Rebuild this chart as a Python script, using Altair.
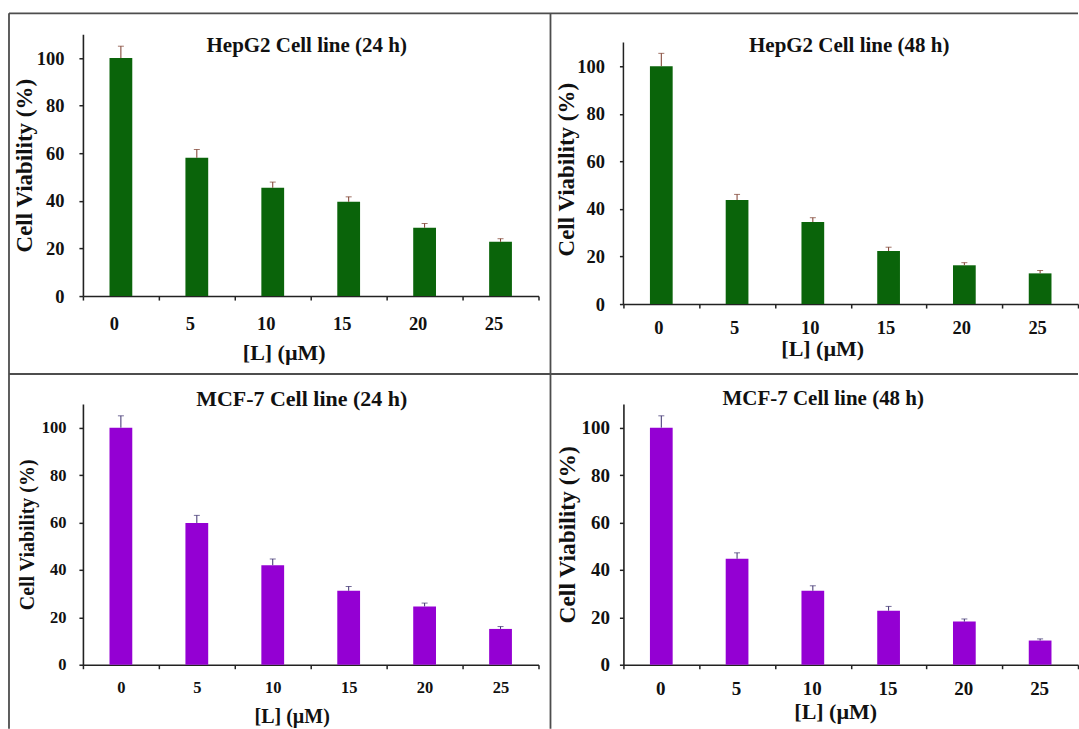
import altair as alt
import pandas as pd

# ---------------- data ----------------
doses = ["0", "5", "10", "15", "20", "25"]

hepg2_24 = [100, 58.1, 45.5, 39.6, 28.7, 22.8]
hepg2_24_err = [5.0, 3.5, 2.4, 2.1, 1.8, 1.3]

hepg2_48 = [100, 43.7, 34.5, 22.3, 16.3, 12.9]
hepg2_48_err = [5.4, 2.4, 1.8, 1.6, 1.1, 1.2]

mcf7_24 = [100, 59.8, 42.0, 31.2, 24.6, 15.1]
mcf7_24_err = [5.0, 3.2, 2.6, 1.8, 1.4, 1.0]

mcf7_48 = [100, 44.7, 31.2, 22.8, 18.2, 10.2]
mcf7_48_err = [5.0, 2.5, 2.1, 1.8, 1.1, 0.7]

panel_titles = [
    "HepG2 Cell line (24 h)",
    "HepG2 Cell line (48 h)",
    "MCF-7 Cell line (24 h)",
    "MCF-7 Cell line (48 h)",
]
y_title = "Cell Viability (%)"
x_title = "[L] (µM)"
y_ticks = [0, 20, 40, 60, 80, 100]
y_axis_top = 110

GREEN = "#0a640a"
PURPLE = "#9400d3"
GREEN_ERR = "#7b3a2a"
PURPLE_ERR = "#3b2f6e"
FONT = "Liberation Serif"
FRAME = "#4d4d4d"
AXIS = "#222222"


def panel(values, errs, title, color, err_color, s, frame=False):
    df = pd.DataFrame({"dose": doses, "v": values,
                       "top": [v + e for v, e in zip(values, errs)]})
    base = alt.Chart(df)
    xscale = alt.Scale(paddingInner=0, paddingOuter=0)
    xaxis = alt.Axis(title=x_title, labelAngle=0, tickBand="extent",
                     labelFontSize=s["lfs"], titleFontSize=s["xtfs"],
                     labelBaseline="middle", labelPadding=s["xlp"],
                     labelOffset=s["xlo"], titleBaseline="middle",
                     titleX=s["xtx"], titleY=s["xty"])
    yscale = alt.Scale(domain=[0, s["ymax"]], nice=False, zero=True)
    yaxis = alt.Axis(title=y_title, values=y_ticks, labelFontSize=s["lfs"],
                     titleFontSize=s["ytfs"], labelPadding=s["ylp"],
                     titleBaseline="middle", titleAngle=-90,
                     titleX=s["ytx"], domain=s["ymax"] == y_axis_top)
    x = alt.X("dose:N", sort=doses, scale=xscale, axis=xaxis)

    bars = base.mark_bar(color=color, width=alt.RelativeBandSize(0.3)).encode(
        x=x, y=alt.Y("v:Q", scale=yscale, axis=yaxis))
    stems = base.mark_rule(color=err_color, strokeWidth=1).encode(
        x=x, y=alt.Y("v:Q", scale=yscale, axis=yaxis), y2="top:Q")
    caps = base.mark_tick(color=err_color, size=6, thickness=1).encode(
        x=x, y=alt.Y("top:Q", scale=yscale, axis=yaxis))
    ttl = alt.Chart(pd.DataFrame({"t": [title]})).mark_text(
        font=FONT, fontWeight="bold", fontSize=s["tfs"], color="#111111",
        align="center", baseline="middle").encode(
        text="t:N", x=alt.value(s["tx"]), y=alt.value(s["ty"]))
    layers = [bars, stems, caps, ttl]
    one = alt.Chart(pd.DataFrame({"k": [0]}))
    if s["ymax"] != y_axis_top:
        # y axis line drawn only up to 110, as in the reference
        layers.append(one.mark_rule(color=AXIS, strokeWidth=1.5).encode(
            x=alt.value(0), y=alt.datum(0, scale=yscale),
            y2=alt.datum(y_axis_top)))
    if frame:
        # panel frame lines (decoration)
        layers += [
            one.mark_rule(color=FRAME, strokeWidth=1.8).encode(
                x=alt.value(-74), x2=alt.value(996), y=alt.value(-21)),
            one.mark_rule(color=FRAME, strokeWidth=1.8).encode(
                x=alt.value(-74), x2=alt.value(996), y=alt.value(340)),
            one.mark_rule(color=FRAME, strokeWidth=1.8).encode(
                x=alt.value(-74), y=alt.value(-21), y2=alt.value(695)),
            one.mark_rule(color=FRAME, strokeWidth=1.8).encode(
                x=alt.value(468), y=alt.value(-21), y2=alt.value(695)),
        ]
    return alt.layer(*layers).properties(width=s["w"], height=s["h"])


tl = panel(hepg2_24, hepg2_24_err, panel_titles[0], GREEN, GREEN_ERR,
           dict(w=456, h=262, ymax=110, lfs=18.5, xtfs=22, ytfs=23, xlp=23,
                xlo=-7, xtx=201, xty=56, ylp=15, ytx=-58, tfs=21, tx=224,
                ty=12),
           frame=True)
tr = panel(hepg2_48, hepg2_48_err, panel_titles[1], GREEN, GREEN_ERR,
           dict(w=455, h=270, ymax=113.4, lfs=18.5, xtfs=22, ytfs=23, xlp=19,
                xlo=-3, xtx=199, xty=44, ylp=15, ytx=-57, tfs=21, tx=226,
                ty=12))
bl = panel(mcf7_24, mcf7_24_err, panel_titles[2], PURPLE, PURPLE_ERR,
           dict(w=456, h=261, ymax=110, lfs=16.5, xtfs=20, ytfs=20, xlp=19,
                xlo=0, xtx=209, xty=52, ylp=13, ytx=-55, tfs=22, tx=219,
                ty=-5))
br = panel(mcf7_48, mcf7_48_err, panel_titles[3], PURPLE, PURPLE_ERR,
           dict(w=455, h=261, ymax=110, lfs=19, xtfs=22, ytfs=23.5, xlp=20,
                xlo=-1, xtx=212, xty=47, ylp=10, ytx=-56, tfs=21, tx=200,
                ty=-5))

chart = alt.concat(
    tl, tr, bl, br, columns=2, bounds="flush",
    spacing={"row": 100, "column": 85},
).properties(
    padding={"left": 8, "top": 12, "right": 0, "bottom": 0},
    background="white",
).configure_view(stroke=None).configure_axis(
    grid=False, domainColor=AXIS, tickColor=AXIS,
    domainWidth=1.6, tickWidth=1.5, tickSize=4,
    labelColor="#111111", titleColor="#111111",
    labelFont=FONT, titleFont=FONT,
    labelFontWeight="bold", titleFontWeight="bold",
)

chart.save("out.html", embed_options={"renderer": "svg", "actions": False})
